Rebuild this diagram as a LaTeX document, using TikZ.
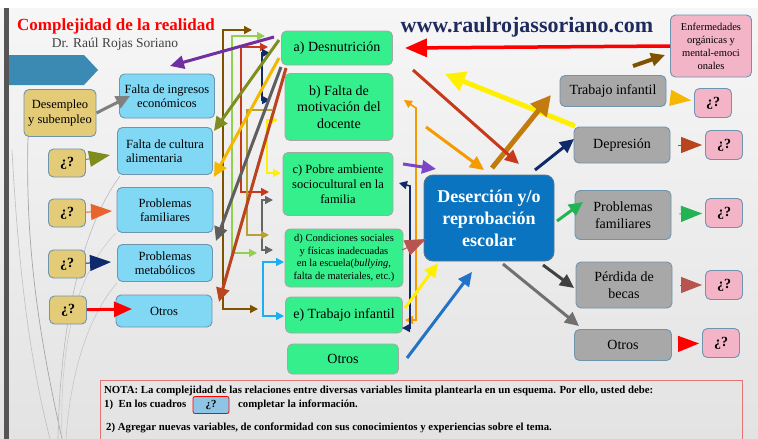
\documentclass[tikz,border=0pt]{standalone}
\usepackage{fontspec}
\setmainfont{Liberation Serif}
\usetikzlibrary{arrows.meta}
\definecolor{slidebar}{HTML}{555555}
\definecolor{tagblue}{HTML}{3B8AB4}
\definecolor{khaki}{HTML}{E3CB78}
\definecolor{skyfill}{HTML}{80D8F5}
\definecolor{mint}{HTML}{35EF8D}
\definecolor{deepblue}{HTML}{0B74C1}
\definecolor{greyfill}{HTML}{A8A8A8}
\definecolor{rose}{HTML}{F4B4C8}
\definecolor{rim}{HTML}{6E94AE}
\definecolor{navyweb}{HTML}{1F2B5E}
\definecolor{notared}{HTML}{E57373}
\definecolor{notabox}{HTML}{8EC5E5}
% arrow colours
\definecolor{cPurple}{HTML}{7030A0}
\definecolor{cOlive}{HTML}{7F8C1E}
\definecolor{cGold}{HTML}{F5B800}
\definecolor{cGrey}{HTML}{5E5E5E}
\definecolor{cRust}{HTML}{B9441D}
\definecolor{cBrown}{HTML}{7F5200}
\definecolor{cLime}{HTML}{92D050}
\definecolor{cRed}{HTML}{C8391B}
\definecolor{cNavy}{HTML}{0E2A6B}
\definecolor{cKhaki}{HTML}{B8A032}
\definecolor{cYellow}{HTML}{FFEF00}
\definecolor{cSky}{HTML}{1AAFF0}
\definecolor{cOrange}{HTML}{F59A00}
\definecolor{cViolet}{HTML}{7B45C8}
\definecolor{cBlue}{HTML}{2272C8}
\definecolor{cBronze}{HTML}{C27C0E}
\definecolor{cGreen}{HTML}{22B352}
\definecolor{cDark}{HTML}{404040}
\definecolor{cMid}{HTML}{707070}
\definecolor{cBrick}{HTML}{B85450}
\definecolor{cTomato}{HTML}{E8642C}

\tikzset{
  box/.style={draw=rim,line width=0.9pt,rounded corners=5pt,align=center,inner sep=1pt},
  yelbox/.style={box,fill=khaki,font=\fontsize{12.5}{14.5}\selectfont},
  qbox/.style={yelbox,minimum width=37,minimum height=28,font=\fontsize{14}{16}\selectfont\bfseries},
  skybox/.style={box,fill=skyfill,font=\fontsize{12.5}{14.5}\selectfont},
  mintbox/.style={box,draw=gray!70,fill=mint,font=\fontsize{14}{16.5}\selectfont},
  greybox/.style={box,fill=greyfill,font=\fontsize{14}{16.5}\selectfont},
  rosebox/.style={box,fill=rose,minimum width=37,minimum height=29,font=\fontsize{14}{16}\selectfont\bfseries},
  arrow line/.style={line width=3pt,-{Triangle[length=14pt,width=13pt]}},
  fat arrow/.style={line width=5pt,-{Triangle[length=20pt,width=20pt]}},
  elbow/.style={line width=1.6pt,-{Triangle[length=8pt,width=8pt]}},
  elbows/.style={line width=1.6pt,{Triangle[length=8pt,width=8pt]}-{Triangle[length=8pt,width=8pt]}},
  wedge/.style={line width=1pt,-{Triangle[length=21pt,width=16pt]}},
  gap wedge/.style={wedge,shorten <=8pt,shorten >=3pt},
}

\begin{document}
\begin{tikzpicture}[x=1pt,y=-1pt]
\useasboundingbox (0,0) rectangle (758,439);

% Slide background
\shade[top color=gray!7,bottom color=gray!22] (0,8) rectangle (758,439);
\fill[white] (0,0) rectangle (758,8);
\fill[slidebar] (4,8) rectangle (9,439);
\fill[tagblue] (9,55) -- (84,55) -- (98,70) -- (84,85) -- (9,85) -- cycle;
\draw[gray!70,line width=0.7pt] (28,137) .. controls (25,250) and (40,340) .. (62,439);
\draw[gray!50,line width=0.6pt] (12,150) .. controls (20,300) and (35,380) .. (50,439);
\draw[gray!55,line width=0.6pt] (120,176) .. controls (80,230) and (60,330) .. (58,439);
\draw[gray!40,line width=0.6pt] (116,233) .. controls (70,280) and (60,360) .. (62,439);
\draw[gray!45,line width=0.6pt] (117,283) .. controls (85,320) and (70,380) .. (66,439);

% Titles
\node [red,font=\fontsize{17}{20}\selectfont\bfseries] (title) at (116,26) {Complejidad de la realidad};
\node [black!75,font=\fontsize{13.5}{16}\selectfont] (autor) at (115,44) {Dr. Raúl Rojas Soriano};
\node [navyweb,font=\fontsize{22}{26}\selectfont\bfseries] (web) at (527,27) {www.raulrojassoriano.com};

% Left column
\node [yelbox,minimum width=72,minimum height=47] (desem) at (60,113) {Desempleo\\y subempleo};
\node [qbox] (q1) at (67,163) {¿?};
\node [qbox] (q2) at (67,213) {¿?};
\node [qbox] (q3) at (67,264) {¿?};
\node [qbox] (q4) at (68,310) {¿?};

\node [skybox,minimum width=95,minimum height=44] (ingr) at (167,96) {Falta de ingresos\\económicos};
\node [skybox,minimum width=95,minimum height=47,align=left] (cult) at (165,151) {Falta de cultura\\alimentaria};
\node [skybox,minimum width=96,minimum height=45] (fam) at (165,210) {Problemas\\familiares};
\node [skybox,minimum width=95,minimum height=37] (meta) at (165,263) {Problemas\\metabólicos};
\node [skybox,minimum width=96,minimum height=32] (otc) at (164,311) {Otros};

% Middle column
\node [mintbox,minimum width=111,minimum height=34] (desn) at (337,48) {a) Desnutrición};
\node [mintbox,minimum width=108,minimum height=67] (moti) at (339,107) {b) Falta de\\motivación del\\docente};
\node [mintbox,minimum width=110,minimum height=63,font=\fontsize{12.5}{15}\selectfont] (ambi) at (338,184) {c) Pobre ambiente\\sociocultural en la\\familia};
\node [mintbox,minimum width=118,minimum height=58,font=\fontsize{10.5}{12.5}\selectfont] (cond) at (344,258) {d) Condiciones sociales\\y físicas inadecuadas\\en la escuela(\textit{bullying},\\falta de materiales, etc.)};
\node [mintbox,minimum width=117,minimum height=36] (trab) at (344,315) {e) Trabajo infantil};
\node [mintbox,minimum width=111,minimum height=30] (otg) at (343,359) {Otros};

\node [box,draw=rim!80!black,fill=deepblue,text=white,minimum width=130,minimum height=86,rounded corners=9pt,font=\fontsize{18}{22}\selectfont\bfseries] (dese) at (489,218) {Deserción y/o\\reprobación\\escolar};

% Right column
\node [greybox,minimum width=106,minimum height=31] (trai) at (613,91) {Trabajo infantil};
\node [greybox,minimum width=96,minimum height=36] (depr) at (622,145) {Depresión};
\node [greybox,minimum width=96,minimum height=49] (pfam) at (623,215) {Problemas\\familiares};
\node [greybox,minimum width=96,minimum height=46] (perd) at (624,285) {Pérdida de\\becas};
\node [greybox,minimum width=97,minimum height=31] (otr) at (623,345) {Otros};

\node [box,fill=rose,minimum width=81,minimum height=62,font=\fontsize{10.5}{13}\selectfont] (enfe) at (711,46) {Enfermedades\\orgánicas y\\mental-emoci\\onales};
\node [rosebox] (p1) at (713,103) {¿?};
\node [rosebox] (p2) at (724,145) {¿?};
\node [rosebox] (p3) at (724,213) {¿?};
\node [rosebox] (p4) at (724,285) {¿?};
\node [rosebox] (p5) at (721,343) {¿?};

% Free arrow ends
\coordinate (ingrTip) at (130,96);
\coordinate (cultTip) at (110,155);
\coordinate (famTip) at (112,211);
\coordinate (metaTip) at (111,262);
\coordinate (otcTip) at (132,309);
\coordinate (purS) at (274,37);  \coordinate (purE) at (170,66);
\coordinate (oliS) at (279,40);  \coordinate (oliE) at (214,131);
\coordinate (golS) at (279,58);  \coordinate (golE) at (214,177);
\coordinate (gryS) at (281,67);  \coordinate (gryE) at (216,241);
\coordinate (rusS) at (286,68);  \coordinate (rusE) at (219,302);
\coordinate (brnT) at (252,30);  \coordinate (brnE) at (258,309);
\coordinate (limT) at (265,36);  \coordinate (limE) at (257,253);
\coordinate (redT) at (268,47);  \coordinate (redE) at (269,192);
\coordinate (navT) at (270,53);  \coordinate (navE) at (270,100);
\coordinate (khaT) at (272,110); \coordinate (khaE) at (269,235);
\coordinate (yelT) at (278,120); \coordinate (yelE) at (281,173);
\coordinate (gryT) at (273,200); \coordinate (gryB) at (273,250);
\coordinate (skyT) at (284,262); \coordinate (skyB) at (284,316);
\coordinate (oraT) at (404,100); \coordinate (oraB) at (405,320);
\coordinate (nvyT) at (399,183); \coordinate (nvyB) at (402,328);
\coordinate (desnTip) at (405,48);
\coordinate (yelTip) at (445,74);  \coordinate (yelS) at (575,126);
\coordinate (brwS) at (633,66);    \coordinate (brwE) at (665,55);
\coordinate (brzS) at (492,168);   \coordinate (brzE) at (551,95);
\coordinate (rdS) at (413,70);     \coordinate (rdE) at (519,164);
\coordinate (orS) at (426,127);    \coordinate (orE) at (484,170);
\coordinate (vioS) at (403,164);   \coordinate (vioE) at (436,169);
\coordinate (brkS) at (402,250);   \coordinate (brkE) at (426,239);
\coordinate (ylS) at (405,308);    \coordinate (ylE) at (438,263);
\coordinate (blS) at (407,358);    \coordinate (blE) at (472,272);
\coordinate (nvS) at (535,170);    \coordinate (nvE) at (574,139);
\coordinate (grS) at (557,221);    \coordinate (grE) at (583,202);
\coordinate (dkS) at (543,265);    \coordinate (dkE) at (574,288);
\coordinate (mdS) at (503,264);    \coordinate (mdE) at (579,326);

% Left arrows
\draw [arrow line,gray] (desem.east) -- (ingrTip);
\draw [wedge,cOlive] (q1) -- (cultTip);
\draw [wedge,cTomato] (q2) -- (famTip);
\draw [wedge,cNavy] (q3) -- (metaTip);
\draw [line width=3pt,red,-{Triangle[length=18pt,width=15pt]}] (q4) -- (otcTip);

% Brackets between the columns
\begin{scope}[elbows]
\draw [cBrown] (brnT) -- (223,30) |- (brnE);
\draw [cLime] (limT) -- (232,36) |- (limE);
\draw [cRed] (redT) -- (241,47) |- (redE);
\draw [cNavy] (navT) -- (262,53) |- (navE);
\draw [cYellow] (yelT) -- (267,120) |- (yelE);
\draw [gray!80!black] (gryT) -- (262,200) |- (gryB);
\draw [cSky] (skyT) -- (263,262) |- (skyB);
\draw [cOrange] (oraT) -- (416,108) |- (oraB);
\draw [cNavy] (nvyT) -- (410,186) |- (nvyB);
\end{scope}
\draw [elbow,cKhaki] (khaT) -- (247,110) |- (khaE);

% Diagonals back to the left column
\begin{scope}[arrow line]
\draw [cPurple] (purS) -- (purE);
\draw [cOlive] (oliS) -- (oliE);
\draw [cGold] (golS) -- (golE);
\draw [cGrey] (gryS) -- (gryE);
\draw [cRust] (rusS) -- (rusE);
\end{scope}

% Into and out of the central box
\draw [line width=3.5pt,red,-{Triangle[length=22pt,width=18pt]}] (enfe.west) -- (desnTip);
\draw [fat arrow,cYellow] (yelS) -- (yelTip);
\draw [arrow line,cBrown,line width=4pt] (brwS) -- (brwE);
\draw [fat arrow,cBronze] (brzS) -- (brzE);
\draw [gap wedge,cGold,shorten <=4pt] (trai) -- (p1);
\begin{scope}[arrow line]
\draw [cRed] (rdS) -- (rdE);
\draw [cOrange] (orS) -- (orE);
\draw [cViolet] (vioS) -- (vioE);
\draw [cYellow] (ylS) -- (ylE);
\draw [cBlue] (blS) -- (blE);
\draw [cNavy] (nvS) -- (nvE);
\draw [cGreen] (grS) -- (grE);
\draw [cDark] (dkS) -- (dkE);
\draw [cMid] (mdS) -- (mdE);
\end{scope}
\draw [wedge,cBrick] (brkS) -- (brkE);

% Right column to the question boxes
\draw [gap wedge,cRust] (depr) -- (p2);
\draw [gap wedge,cGreen] (pfam) -- (p3);
\draw [gap wedge,cBrick] (perd) -- (p4);
\draw [gap wedge,red] (otr) -- (p5);

% Note
\draw [notared,line width=0.8pt] (100,380) rectangle (742,445);
\begin{scope}[font=\fontsize{10.8}{12}\selectfont\bfseries,inner sep=0pt]
\node [anchor=west] (nota1) at (104,391) {NOTA: La complejidad de las relaciones entre diversas variables limita plantearla en un esquema. Por ello, usted debe:};
\node [anchor=west] (nota2) at (104,405) {1)\enspace En los cuadros};
\node [draw=red,fill=notabox,rounded corners=2pt,minimum width=36,minimum height=17,line width=0.8pt] (qn) at (211,405) {¿?};
\node [anchor=west] (nota3) at (238,405) {completar la información.};
\node [anchor=west] (nota4) at (106,428) {2) Agregar nuevas variables, de conformidad con sus conocimientos y experiencias sobre el tema.};
\end{scope}
\end{tikzpicture}
\end{document}
